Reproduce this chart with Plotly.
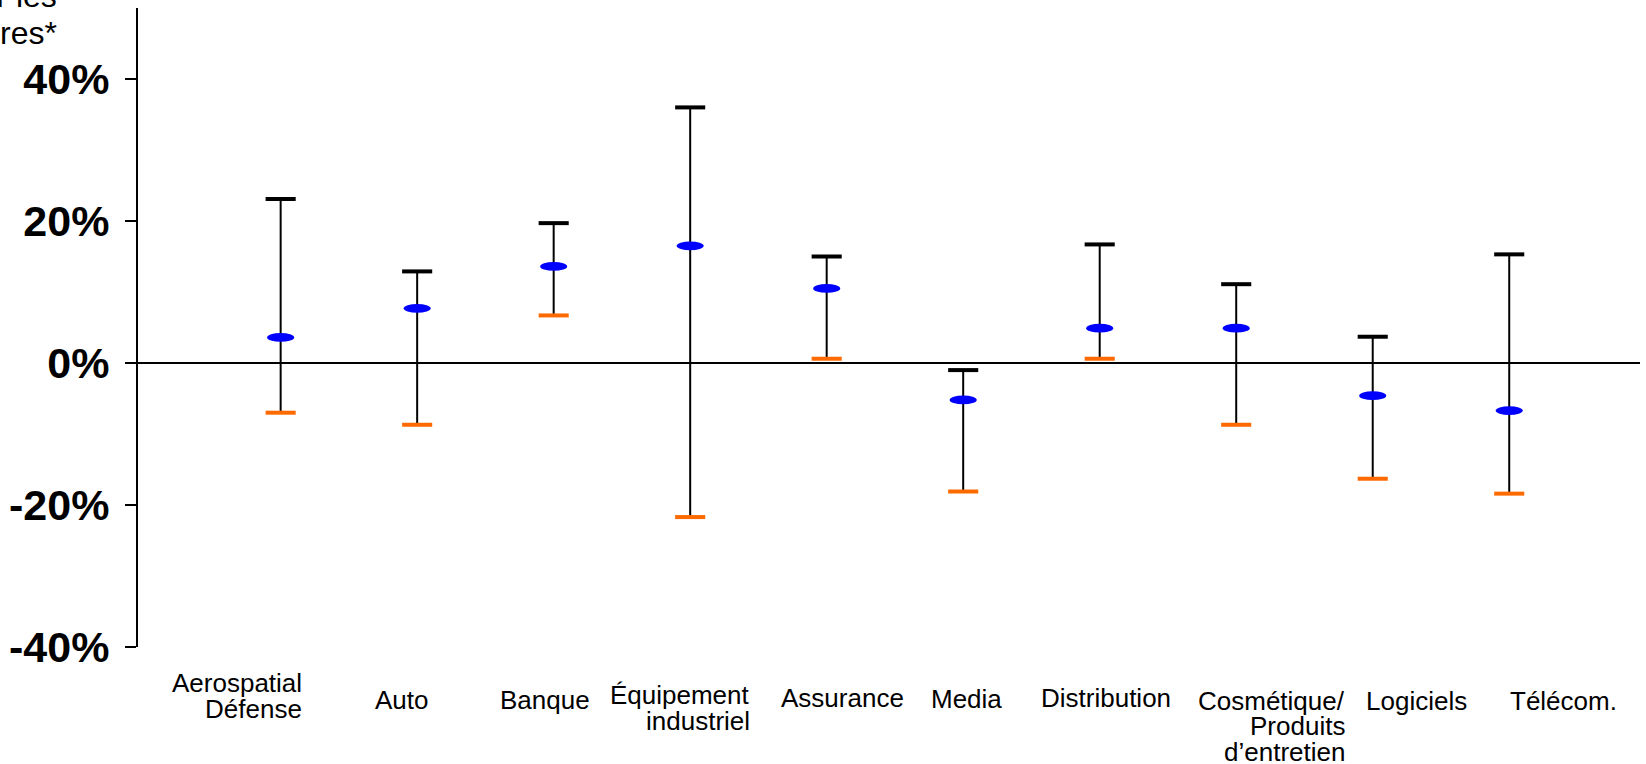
import plotly.graph_objects as go

# ---- data ----
sectors = ["Aerospatial Défense", "Auto", "Banque", "Équipement industriel", "Assurance",
           "Media", "Distribution", "Cosmétique/ Produits d’entretien", "Logiciels", "Télécom."]
label_lines = [["Aerospatial", "Défense"], ["Auto"], ["Banque"], ["Équipement", "industriel"],
               ["Assurance"], ["Media"], ["Distribution"], ["Cosmétique/", "Produits", "d’entretien"],
               ["Logiciels"], ["Télécom."]]
high = [23.1, 12.9, 19.7, 36.0, 15.0, -1.0, 16.7, 11.1, 3.7, 15.3]
median = [3.6, 7.7, 13.6, 16.5, 10.5, -5.2, 4.9, 4.9, -4.6, -6.7]
low = [-7.0, -8.7, 6.7, -21.7, 0.6, -18.1, 0.6, -8.7, -16.3, -18.4]
ytick_vals = [40, 20, 0, -20, -40]
ytick_text = ["40%", "20%", "0%", "-20%", "-40%"]

# ---- layout helpers (label placement) ----
label_right = [0.163, 0.094, 0.273, 0.445, 0.573, 0.29, 0.529, 0.805, 0.698, 0.797]  # offset in x units
label_baselines = [[693, 719], [710], [710], [705, 731], [708], [709], [708], [711, 736, 762], [711], [711]]

FONT = "Liberation Sans, Arial, Helvetica, sans-serif"
PLOT_BOTTOM = 647

xs = list(range(len(sectors)))

vx, vy = [], []
for i in xs:
    vx += [i, i, None]
    vy += [low[i], high[i], None]

fig = go.Figure()
fig.add_trace(go.Scatter(x=vx, y=vy, mode="lines", line=dict(color="black", width=2),
                         hoverinfo="skip", showlegend=False))
fig.add_trace(go.Scatter(x=xs, y=high, mode="markers", showlegend=False,
                         marker=dict(symbol="line-ew", size=21.5, line=dict(color="black", width=4))))
fig.add_trace(go.Scatter(x=xs, y=low, mode="markers", showlegend=False,
                         marker=dict(symbol="line-ew", size=21.5, line=dict(color="#FF6A00", width=4))))

# blue ellipses for median values
for i in xs:
    fig.add_shape(type="circle", xref="x", yref="y",
                  x0=i - 0.099, x1=i + 0.099, y0=median[i] - 0.62, y1=median[i] + 0.62,
                  fillcolor="#0000FF", line=dict(width=0), layer="above")

# category labels, one annotation per line (tight line spacing)
for i in xs:
    for line, base in zip(label_lines[i], label_baselines[i]):
        fig.add_annotation(x=i + label_right[i], y=0, xref="x", yref="paper",
                           text=line, showarrow=False, xanchor="right", yanchor="bottom",
                           borderpad=0, yshift=-(base + 6 - PLOT_BOTTOM),
                           font=dict(family=FONT, size=26, color="black"))

# y-axis title (partly off the top of the page)
title_lines = [("pour les", 7), ("actionnaires*", 44)]
for txt, base in title_lines:
    fig.add_annotation(x=0, y=1, xref="paper", yref="paper", text=txt, showarrow=False,
                       xanchor="right", yanchor="bottom", borderpad=0,
                       xshift=58 - 138, yshift=-(base + 8 - 8),
                       font=dict(family=FONT, size=32, color="black"))

fig.update_layout(
    width=1646, height=764,
    margin=dict(l=138, r=6, t=8, b=117),
    paper_bgcolor="white", plot_bgcolor="white",
    showlegend=False,
    xaxis=dict(range=[-1.045, 9.958], showgrid=False, zeroline=False, showline=False,
               showticklabels=False, ticks=""),
    yaxis=dict(range=[-40, 50], tickvals=ytick_vals, ticktext=ytick_text,
               showgrid=False, zeroline=True, zerolinecolor="black", zerolinewidth=2,
               showline=True, linecolor="black", linewidth=2,
               ticks="outside", ticklen=11, tickwidth=2, tickcolor="black",
               ticklabelstandoff=7,
               tickfont=dict(family=FONT, size=43, color="black", weight="bold")),
)

fig.write_html("out.html", config={"displayModeBar": False},
               post_script="document.body.style.margin='0';document.body.style.overflow='hidden';")
